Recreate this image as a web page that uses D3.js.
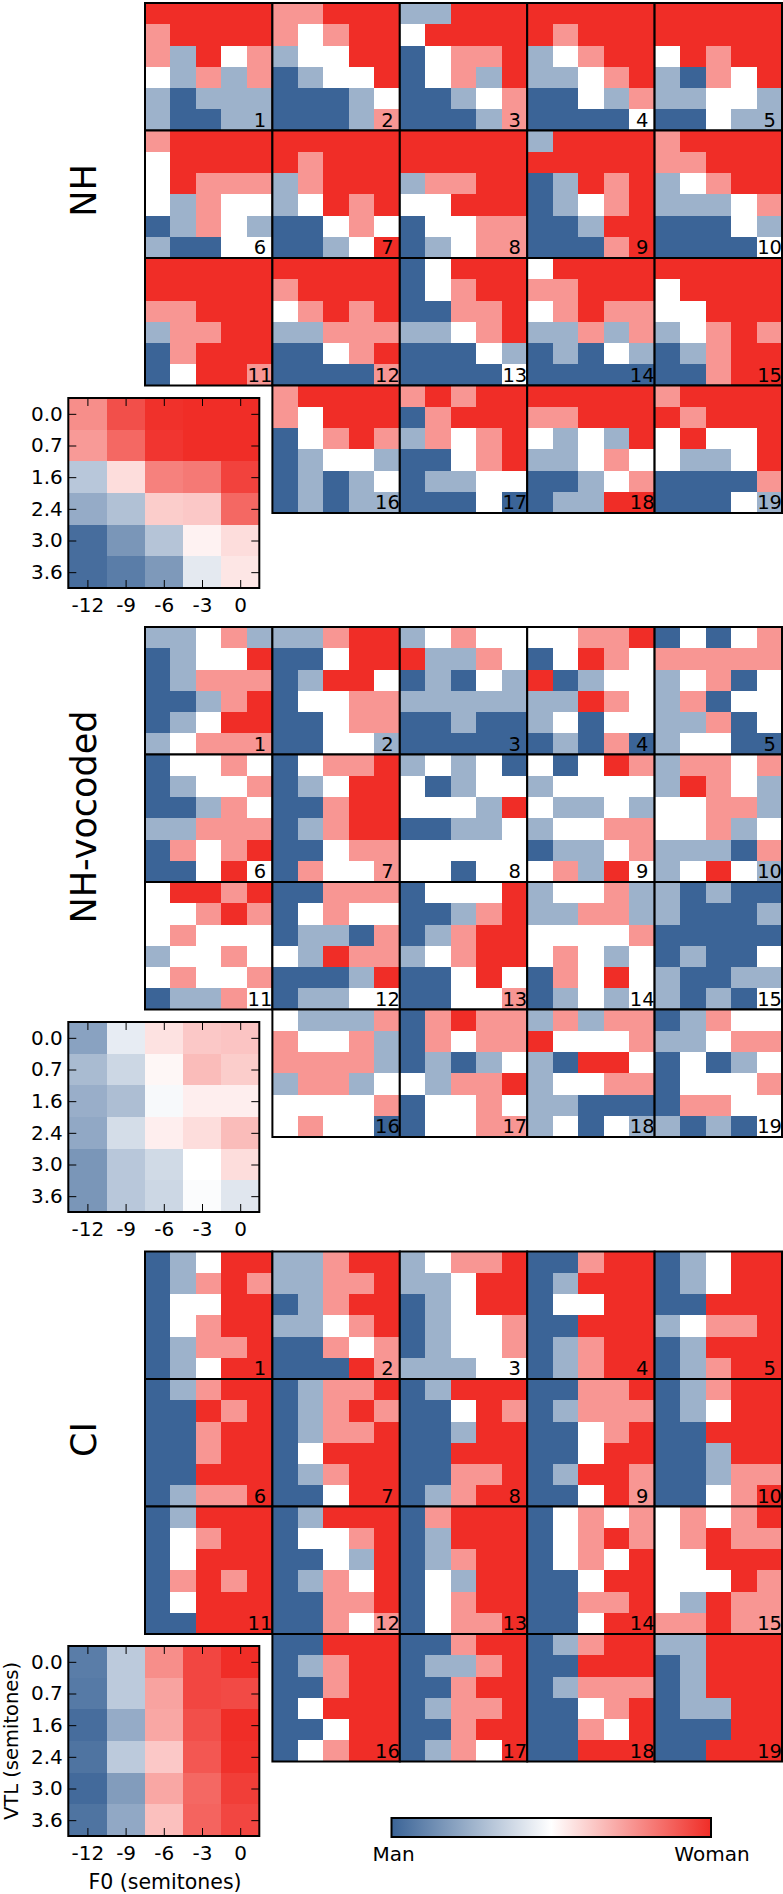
<!DOCTYPE html>
<html><head><meta charset="utf-8">
<script src="https://cdn.jsdelivr.net/npm/d3@7/dist/d3.min.js"></script>
<style>html,body{margin:0;padding:0;background:#fff}svg{display:block}text{font-family:"DejaVu Sans",sans-serif;fill:#000}</style>
</head><body><svg id="c" width="783" height="1894"></svg>
<script>
const f0Labels=["-12","-9","-6","-3","0"];
const vtlLabels=["0.0","0.7","1.6","2.4","3.0","3.6"];
// Each listener panel: six rows of five cells, counts of "woman" answers out of 4
const nhPanels=[
[[4,4,4,4,4],[3,4,4,4,4],[3,1,4,2,3],[2,1,3,1,3],[1,0,1,1,1],[1,0,0,1,1]],
[[3,3,4,4,4],[3,2,3,4,4],[1,2,2,4,4],[0,1,2,2,4],[0,0,0,1,2],[0,0,0,1,3]],
[[1,1,4,4,4],[2,4,4,4,4],[0,2,3,3,4],[0,2,3,1,4],[0,0,1,2,3],[0,0,0,1,3]],
[[4,4,4,4,4],[4,3,4,4,4],[1,2,3,4,4],[1,1,2,3,4],[0,0,2,1,3],[0,0,0,0,2]],
[[4,4,4,4,4],[4,4,4,4,4],[2,4,3,4,4],[1,0,3,2,4],[1,1,2,2,1],[0,0,2,1,1]],
[[3,4,4,4,4],[2,4,4,4,4],[2,4,3,3,3],[2,1,3,2,2],[0,1,3,2,1],[1,0,0,2,2]],
[[4,4,4,4,4],[4,3,4,4,4],[1,3,4,4,4],[1,2,4,3,4],[0,0,2,3,2],[0,0,1,2,4]],
[[4,4,4,4,4],[4,4,4,4,4],[1,3,3,4,4],[2,2,4,4,4],[0,2,2,3,3],[0,1,2,3,3]],
[[1,4,4,4,4],[4,4,4,4,4],[0,1,4,3,4],[0,1,2,3,4],[0,0,1,4,4],[0,0,0,3,4]],
[[3,4,4,4,4],[3,3,4,4,4],[1,2,3,4,4],[1,1,1,2,3],[0,0,0,2,1],[0,0,0,0,2]],
[[4,4,4,4,4],[4,4,4,4,4],[3,3,4,4,4],[1,3,3,4,4],[0,3,4,4,4],[0,2,4,4,3]],
[[4,4,4,4,4],[3,4,4,4,4],[2,3,4,3,4],[1,1,3,3,3],[0,0,2,3,4],[0,0,0,0,3]],
[[0,2,4,4,4],[0,2,3,4,4],[0,0,3,3,4],[1,1,2,3,4],[0,0,0,2,1],[0,0,0,0,2]],
[[2,4,4,4,4],[3,3,4,4,4],[2,3,4,3,3],[1,1,3,1,3],[0,1,0,2,1],[0,0,0,0,0]],
[[4,4,4,4,4],[2,4,4,4,4],[2,2,4,4,4],[1,2,3,4,3],[0,1,3,4,4],[0,0,3,4,4]],
[[3,4,4,4,4],[3,2,4,4,4],[0,2,3,4,3],[0,1,2,2,1],[0,1,0,1,2],[0,1,0,1,1]],
[[3,4,3,4,4],[0,3,4,4,4],[1,3,2,3,4],[0,0,2,3,4],[0,1,1,2,2],[0,0,0,2,0]],
[[4,4,4,4,4],[3,3,4,4,4],[2,1,2,1,4],[1,1,2,3,2],[0,0,1,2,3],[0,1,1,4,4]],
[[3,4,4,4,4],[4,3,4,4,4],[2,4,2,2,4],[2,1,1,2,4],[0,0,0,0,3],[0,0,0,2,1]]];
const vocodedPanels=[
[[1,1,2,3,1],[0,1,2,2,4],[0,1,3,3,3],[0,0,1,3,4],[0,1,2,4,4],[1,2,3,3,3]],
[[1,1,3,4,4],[0,0,2,4,4],[0,1,4,4,2],[0,2,2,3,3],[0,0,2,3,3],[0,0,2,2,1]],
[[1,2,3,2,2],[4,1,1,3,2],[0,1,0,2,1],[1,1,1,1,1],[0,0,1,0,0],[0,0,0,0,0]],
[[2,2,3,3,4],[0,2,4,3,2],[4,0,1,2,2],[1,1,4,3,2],[1,2,0,2,2],[0,1,0,3,0]],
[[0,2,0,2,3],[3,3,3,3,3],[1,2,3,0,2],[1,3,0,2,2],[1,1,3,0,2],[1,2,2,0,0]],
[[0,2,2,3,2],[0,1,2,2,3],[0,0,1,3,2],[1,1,3,3,3],[0,3,2,3,4],[0,0,2,4,2]],
[[0,2,3,3,4],[0,1,2,4,4],[0,0,3,4,4],[0,1,3,4,4],[0,0,2,3,3],[0,3,2,2,3]],
[[1,2,1,2,0],[2,0,1,2,2],[2,2,2,1,4],[0,0,1,1,2],[2,2,2,2,2],[2,2,0,2,2]],
[[2,0,2,4,3],[1,2,2,2,2],[2,1,1,2,1],[1,2,2,3,3],[0,1,1,2,3],[2,3,1,4,2]],
[[1,3,3,2,3],[1,4,3,2,1],[2,2,3,3,1],[2,2,3,1,2],[1,1,1,0,3],[1,2,4,2,1]],
[[2,4,4,3,4],[2,2,3,4,3],[2,3,2,2,2],[1,2,2,3,2],[2,3,2,2,3],[0,1,1,3,2]],
[[0,0,3,3,3],[0,2,3,2,2],[0,1,1,0,3],[2,1,4,3,3],[0,0,0,1,4],[0,1,1,2,2]],
[[0,2,2,2,4],[0,0,1,3,4],[0,1,3,4,4],[1,2,3,4,4],[0,0,2,4,2],[0,0,2,2,3]],
[[1,2,2,3,1],[1,1,3,3,1],[2,2,2,2,3],[2,3,2,1,2],[0,3,2,4,2],[0,1,2,1,2]],
[[1,0,1,0,0],[1,0,0,0,1],[0,0,0,0,0],[0,1,0,0,2],[1,0,0,1,1],[1,0,1,0,2]],
[[2,1,1,1,3],[3,2,2,3,1],[3,3,3,3,1],[1,3,3,1,2],[2,2,2,2,3],[2,3,2,2,0]],
[[0,3,4,3,3],[0,3,2,3,3],[0,1,0,1,2],[2,1,3,3,4],[0,2,2,3,2],[0,2,2,3,3]],
[[1,3,1,3,3],[4,2,2,2,3],[1,0,4,4,2],[1,2,2,3,3],[1,1,0,0,0],[1,2,0,2,1]],
[[0,1,3,2,2],[1,1,2,3,3],[0,2,0,1,2],[0,2,2,2,3],[0,3,3,2,2],[1,0,1,0,2]]];
const ciPanels=[
[[0,1,2,4,4],[0,1,3,4,3],[0,2,2,4,4],[0,2,3,4,4],[0,1,3,3,4],[0,1,2,4,4]],
[[1,1,3,4,4],[1,1,3,3,4],[0,1,3,4,4],[1,1,2,3,4],[0,0,3,2,3],[0,0,0,4,3]],
[[1,2,3,3,4],[1,1,2,4,4],[0,1,2,4,4],[0,1,2,2,3],[0,1,2,2,3],[1,1,1,2,2]],
[[0,0,3,4,4],[0,1,4,4,4],[0,2,2,4,4],[0,0,4,4,4],[0,1,3,4,4],[0,1,3,4,4]],
[[0,1,2,4,4],[0,1,2,4,4],[0,0,4,4,4],[1,2,3,3,4],[0,1,4,4,4],[0,1,3,4,4]],
[[0,1,3,4,4],[0,0,4,3,4],[0,0,3,4,4],[0,0,3,4,4],[0,0,4,4,4],[0,1,3,3,4]],
[[0,1,3,3,4],[0,1,3,4,3],[0,1,3,3,4],[0,2,4,4,4],[0,1,3,4,4],[0,0,2,4,4]],
[[0,1,4,4,4],[0,0,2,4,3],[0,0,1,4,4],[0,0,4,4,4],[0,0,3,3,4],[0,1,3,4,4]],
[[0,0,3,3,4],[0,1,3,3,3],[0,0,2,3,4],[0,0,2,4,4],[0,1,4,4,3],[0,0,2,4,3]],
[[0,1,3,4,4],[0,1,2,4,4],[0,0,4,4,4],[0,0,1,4,4],[0,0,1,3,3],[0,0,2,3,4]],
[[0,1,4,4,4],[0,2,3,4,4],[0,2,4,4,4],[0,3,4,3,4],[0,2,4,4,4],[0,0,4,4,4]],
[[0,1,4,4,4],[0,2,2,3,4],[0,0,2,1,4],[0,1,3,2,4],[0,0,3,3,4],[0,0,3,2,3]],
[[0,3,4,4,4],[0,1,4,4,4],[0,1,3,4,4],[0,2,1,4,4],[0,2,3,4,4],[0,2,3,3,4]],
[[0,2,3,2,3],[0,2,3,4,3],[0,2,3,2,4],[0,0,2,4,4],[0,0,3,3,4],[0,0,2,4,4]],
[[2,3,2,3,4],[2,3,4,3,3],[2,2,4,4,4],[2,2,2,4,3],[2,1,4,3,3],[3,3,4,3,3]],
[[0,0,4,4,4],[0,1,3,4,4],[0,0,3,4,4],[0,2,4,4,4],[0,0,2,4,4],[0,2,3,4,4]],
[[0,0,3,4,4],[0,1,1,3,4],[0,0,3,4,4],[0,1,3,3,4],[0,0,3,4,4],[0,1,3,2,4]],
[[0,1,3,4,4],[0,0,4,4,4],[0,1,3,3,3],[0,0,2,3,4],[0,0,3,2,4],[0,0,4,4,4]],
[[1,1,4,4,4],[0,1,4,4,4],[0,1,4,4,4],[0,1,1,4,4],[0,0,0,4,4],[0,0,4,4,4]]];
// Group means, proportion of "woman" answers
const nhMean=[[.77,.92,.99,1,1],[.74,.86,.98,1,1],[.32,.58,.80,.82,.95],[.23,.30,.62,.63,.86],[.03,.16,.31,.53,.58],[.03,.08,.17,.43,.56]];
const vocodedMean=[[.2,.44,.57,.63,.64],[.28,.37,.52,.66,.62],[.24,.29,.48,.54,.54],[.22,.39,.54,.58,.66],[.16,.32,.38,.5,.58],[.16,.32,.37,.49,.42]];
const ciMean=[[.08,.33,.77,.94,1],[.07,.33,.72,.94,.93],[.03,.23,.71,.92,1],[.05,.33,.63,.90,.99],[.02,.18,.71,.86,.96],[.05,.22,.65,.87,.94]];
const groupNames=["NH","NH-vocoded","CI"];
const groups=[nhPanels,vocodedPanels,ciPanels];
const means=[nhMean,vocodedMean,ciMean];
const gridTops=[3,627,1251.5];
const meanTops=[398,1022,1646];
const titleY=[190.5,817,1439.5];
const BLUE="#3b6497",RED="#f02d27";
const colour=d3.scaleLinear().domain([0,.5,1]).range([BLUE,"#ffffff",RED]);
const svg=d3.select("#c");
const W=127.4,H=127.5,gridLeft=145,cols=d3.range(5),rows=d3.range(6);
const cx=d3.scaleBand().domain(cols).range([0,W]);
const cy=d3.scaleBand().domain(rows).range([0,H]);
function cells(g,data,xs,ys,div){
  g.selectAll("g").data(data).join("g").attr("transform",(d,i)=>`translate(0,${ys(i)})`)
   .selectAll("rect").data(d=>d).join("rect")
   .attr("x",(d,j)=>xs(j)).attr("width",xs.bandwidth()+.5).attr("height",ys.bandwidth()+.5)
   .attr("shape-rendering","crispEdges")
   .attr("fill",d=>colour(d/div));
}
groups.forEach((panels,gi)=>{
  const root=svg.append("g");
  panels.forEach((p,i)=>{
    const slot=i<15?i:i+1;
    const g=root.append("g").attr("transform",`translate(${gridLeft+W*(slot%5)},${gridTops[gi]+H*Math.floor(slot/5)})`);
    cells(g.append("g"),p,cx,cy,4);
    g.append("rect").attr("width",W).attr("height",H).attr("fill","none").attr("stroke","#000").attr("stroke-width",2);
    g.append("text").text(i+1).attr("text-anchor","middle").attr("font-size",19.5)
      .attr("x",115).attr("y",H-4);
  });
  // mean panel
  const mW=191,mH=190;
  const mg=root.append("g").attr("transform",`translate(68.3,${meanTops[gi]})`);
  const mx=d3.scaleBand().domain(cols).range([0,mW]);
  const my=d3.scaleBand().domain(rows).range([0,mH]);
  cells(mg.append("g"),means[gi],mx,my,1);
  const xp=d3.scalePoint().domain(f0Labels).range([mx.bandwidth()/2,mW-mx.bandwidth()/2]);
  const yp=d3.scalePoint().domain(vtlLabels).range([my.bandwidth()/2,mH-my.bandwidth()/2]);
  const style=(a,lab)=>{a.select(".domain").remove();a.selectAll("line").attr("stroke","#000").attr("stroke-width",1);
    if(lab)a.selectAll("text").attr("font-size",20).attr("font-family",'"DejaVu Sans"');else a.selectAll("text").remove();};
  mg.append("g").attr("transform",`translate(0,${mH})`).call(d3.axisBottom(xp).tickSizeOuter(0).tickSizeInner(-8).tickPadding(10)).call(style,true);
  mg.append("g").call(d3.axisTop(xp).tickSizeOuter(0).tickSizeInner(-8)).call(style,false);
  mg.append("g").call(d3.axisLeft(yp).tickSizeOuter(0).tickSizeInner(-8).tickPadding(5.5)).call(style,true);
  mg.append("g").attr("transform",`translate(${mW},0)`).call(d3.axisRight(yp).tickSizeOuter(0).tickSizeInner(-8)).call(style,false);
  mg.append("rect").attr("width",mW).attr("height",mH).attr("fill","none").attr("stroke","#000").attr("stroke-width",2);
  // title
  svg.append("text").text(groupNames[gi]).attr("text-anchor","middle").attr("font-size",35)
    .attr("transform",`translate(96,${titleY[gi]}) rotate(-90)`);
});
svg.append("text").text("VTL (semitones)").attr("text-anchor","middle").attr("font-size",19.5)
  .attr("transform",`translate(18,1741) rotate(-90)`);
svg.append("text").text("F0 (semitones)").attr("text-anchor","middle").attr("font-size",20.5).attr("x",165).attr("y",1889);
// colour bar
const defs=svg.append("defs");
const grad=defs.append("linearGradient").attr("id","cb");
[0,.125,.25,.375,.5,.625,.75,.875,1].forEach(t=>grad.append("stop").attr("offset",t).attr("stop-color",colour(t)));
svg.append("rect").attr("x",391.5).attr("y",1818).attr("width",319.5).attr("height",19).attr("fill","url(#cb)").attr("stroke","#000").attr("stroke-width",2);
svg.append("text").text("Man").attr("text-anchor","middle").attr("font-size",20).attr("x",393.5).attr("y",1861);
svg.append("text").text("Woman").attr("text-anchor","middle").attr("font-size",20).attr("x",712).attr("y",1861);
</script></body></html>
